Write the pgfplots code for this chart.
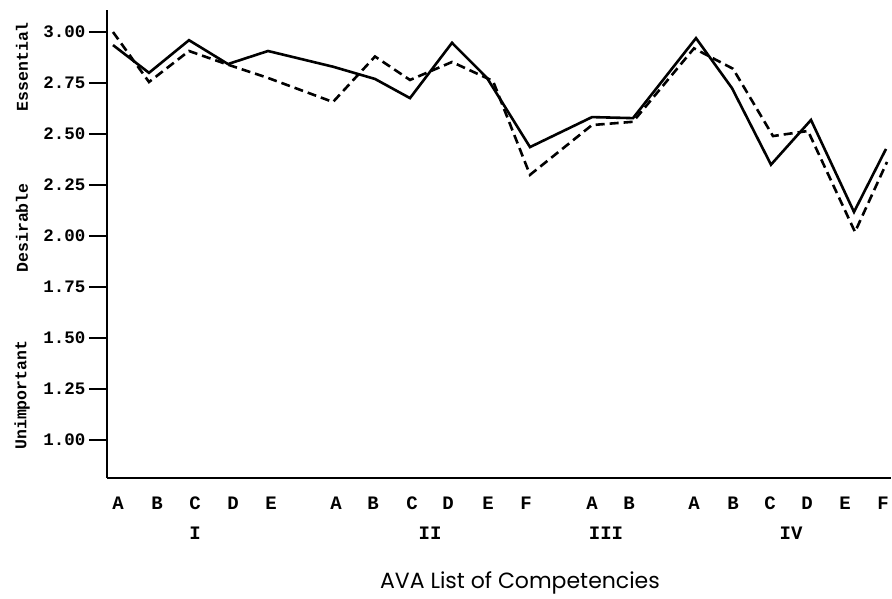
\documentclass[border=0pt]{standalone}
\usepackage{fontspec}
\setmainfont{Liberation Serif}
\setmonofont{Liberation Mono}
\setsansfont{Poppins}
\usepackage{pgfplots}
\pgfplotsset{compat=1.18}

% x values are positions along the axis (one unit = 1pt)
\pgfplotstableread{
x    y
113  2.936
149  2.800
189  2.960
228  2.843
268  2.907
333  2.830
375  2.770
410  2.676
452  2.947
487  2.775
530  2.436
592  2.583
633  2.578
696  2.970
732  2.725
771  2.350
811  2.569
854  2.118
886  2.427
}\solid

\pgfplotstableread{
x    y
113  3.000
149  2.755
189  2.907
228  2.840
268  2.775
333  2.657
375  2.880
410  2.765
452  2.853
493  2.760
530  2.300
592  2.544
633  2.560
694  2.920
733  2.820
773  2.490
808  2.515
855  2.020
887  2.363
}\dashed

\begin{document}
\begin{tikzpicture}
\useasboundingbox (0,0) rectangle (892pt,599pt);
\begin{axis}[
  at={(107pt,121pt)}, anchor=south west,
  scale only axis,
  width=784pt, height=468pt,
  xmin=107, xmax=891,
  ymin=0.814, ymax=3.108,
  axis x line*=bottom, axis y line*=left,
  axis line style={line width=1.8pt},
  ytick={1,1.25,...,3.01},
  yticklabel style={font=\fontsize{17.5}{17.5}\selectfont\ttfamily\bfseries, /pgf/number format/.cd, fixed, fixed zerofill, precision=2, assume math mode=true},
  xtick={118,157,195,233,271,336,373,412,448,488,526,592,629,694,733,770,807,845,883},
  xticklabels={A,B,C,D,E,A,B,C,D,E,F,A,B,A,B,C,D,E,F},
  xticklabel style={font=\fontsize{19}{19}\selectfont\ttfamily\bfseries, yshift=3pt},
  x tick style={draw=none},
  y tick style={line width=1.5pt, black},
  tick align=outside,
  major tick length=18pt,
  clip=false,
]
\addplot[black, line width=2.6pt, line join=miter] table[x=x,y=y] {\solid};
\addplot[black, line width=2.6pt, dash pattern=on 9pt off 5pt] table[x=x,y=y] {\dashed};
\begin{scope}[every node/.style={font=\fontsize{19}{19}\selectfont\ttfamily\bfseries}]
\node at (axis cs:195,0.814) [yshift=-55pt] {I};
\node at (axis cs:430,0.814) [yshift=-55pt] {II};
\node at (axis cs:606,0.814) [yshift=-55pt] {III};
\node at (axis cs:791,0.814) [yshift=-55pt] {IV};
\end{scope}
\node[font=\fontsize{22}{22}\selectfont\sffamily] at (axis cs:520,0.814) [yshift=-105pt] {AVA List of Competencies};
\begin{scope}[every node/.style={rotate=90, font=\fontsize{16.5}{16.5}\selectfont\ttfamily\bfseries}]
\node at (axis cs:22,1.22) {Unimportant};
\node at (axis cs:22,2.04) {Desirable};
\node at (axis cs:22,2.83) {Essential};
\end{scope}
\end{axis}
\end{tikzpicture}
\end{document}
